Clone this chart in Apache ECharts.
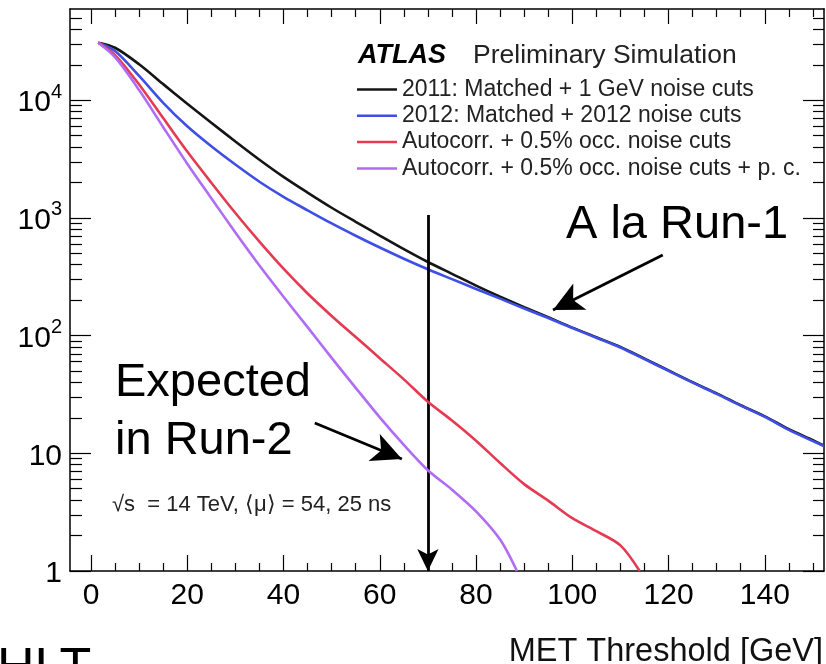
<!DOCTYPE html>
<html>
<head>
<meta charset="utf-8">
<script src="https://cdn.jsdelivr.net/npm/echarts@6/dist/echarts.min.js"></script>
<style>
  html, body { margin: 0; padding: 0; background: #fff; }
  #chart { width: 826px; height: 664px; }
</style>
</head>
<body>
<div id="chart"></div>
<script>
const FONT = '"Liberation Sans", Arial, Helvetica, sans-serif';

// MET threshold [GeV] sample points for each rate curve
const thresholds2011 = [1.5, 5, 10, 15, 20, 25, 30, 35, 40, 45, 50, 55, 60, 65, 70, 75, 80, 85, 90, 95, 100, 105, 110, 115, 120, 125, 130, 135, 140, 145, 150, 152.3];
const rate2011 = [30800, 27900, 20200, 13700, 9350, 6440, 4460, 3120, 2230, 1640, 1220, 927, 708, 543, 422, 335, 266, 214, 174, 143, 117, 96.8, 80.0, 63.7, 50.6, 40.2, 32.3, 25.6, 20.6, 16.0, 12.9, 11.6];

const thresholds2012 = [1.5, 5, 10, 15, 20, 25, 30, 35, 40, 45, 50, 55, 60, 65, 70, 75, 80, 85, 90, 95, 100, 105, 110, 115, 120, 125, 130, 135, 140, 145, 150, 152.3];
const rate2012 = [30800, 26200, 16100, 9510, 6000, 4060, 2840, 2030, 1510, 1160, 897, 705, 560, 450, 366, 302, 249, 206, 170, 141, 116, 95.9, 79.3, 63.1, 50.1, 39.8, 32.0, 25.4, 20.4, 15.8, 12.7, 11.5];

const thresholdsAutocorr = [1.5, 5, 10, 15, 20, 25, 30, 35, 40, 45, 50, 55, 60, 65, 70, 75, 80, 85, 90, 95, 100, 105, 110, 114];
const rateAutocorr = [30800, 24200, 13600, 7050, 3660, 1990, 1100, 628, 370, 228, 147, 97.3, 64.3, 42.5, 27.4, 19.0, 12.8, 8.28, 5.47, 3.96, 2.81, 2.18, 1.65, 1.0];

const thresholdsAutocorrPC = [1.5, 5, 10, 15, 20, 25, 30, 35, 40, 45, 50, 55, 60, 65, 70, 75, 80, 85, 88.5];
const rateAutocorrPC = [30800, 23200, 12200, 5900, 2890, 1470, 752, 394, 214, 118, 64.7, 36.0, 20.2, 11.8, 7.18, 4.91, 3.21, 1.85, 1.0];

const seriesNames = [
  '2011: Matched + 1 GeV noise cuts',
  '2012: Matched + 2012 noise cuts',
  'Autocorr. + 0.5% occ. noise cuts',
  'Autocorr. + 0.5% occ. noise cuts + p. c.'
];
const seriesColors = ['#151515', '#3f4fe6', '#e43a52', '#b06cf4'];

// axis ranges and tick positions
const xMin = -4.36, xMax = 152.3;
const yMin = 1, yMax = 59560;
const xMajorTicks = [0, 20, 40, 60, 80, 100, 120, 140];
const xMinorTicks = [5, 10, 15, 25, 30, 35, 45, 50, 55, 65, 70, 75, 85, 90, 95, 105, 110, 115, 125, 130, 135, 145, 150];
const yMajorTicks = [1, 10, 100, 1000, 10000];
const yMinorTicks = [];
for (let d = 1; d <= 10000; d *= 10) {
  for (let m = 2; m <= 9; m++) {
    if (m * d < yMax) yMinorTicks.push(m * d);
  }
}

// threshold marker and annotation arrows (data coordinates)
const cutThreshold = 70;
const arrowRun1 = [[118.8, 484], [96.0, 165]];
const arrowRun2 = [[46.5, 18.1], [64.6, 8.95]];

function pairs(xs, ys) { return xs.map((x, i) => [x, ys[i]]); }

function yLabel(v) {
  const l = Math.log10(v);
  const e = Math.round(l);
  if (Math.abs(l - e) > 1e-6) return '';
  if (e === 0) return '{b|1}';
  if (e === 1) return '{b|10}';
  return '{b|10}{s|' + e + '}';
}

const tickStyle = { color: '#000', width: 1.2 };

const baseX = {
  type: 'value', min: xMin, max: xMax,
  axisLine: { show: true, onZero: false, lineStyle: { color: '#000', width: 1.5 } },
  splitLine: { show: false }
};
const baseY = {
  type: 'log', logBase: 10, min: yMin, max: yMax,
  axisLine: { show: true, onZero: false, lineStyle: { color: '#000', width: 1.5 } },
  axisTick: { show: false },
  splitLine: { show: false }
};

// Empty unit axes whose zero lies on one frame edge; the tick-only axes
// below are pinned to them with axisLine.onZero.
function anchorAxis(min, max) {
  return {
    type: 'value', min: min, max: max,
    axisLine: { show: false, onZero: false },
    axisTick: { show: false }, axisLabel: { show: false }, splitLine: { show: false }
  };
}
function xTickAxis(position, values, length, anchorIndex) {
  return {
    type: 'value', min: xMin, max: xMax, position: position,
    axisLine: { show: false, onZero: true, onZeroAxisIndex: anchorIndex },
    splitLine: { show: false }, axisLabel: { show: false },
    axisTick: { show: true, inside: true, length: length, lineStyle: tickStyle, customValues: values }
  };
}
function yTickAxis(position, values, length, anchorIndex) {
  return {
    type: 'value', min: Math.log10(yMin), max: Math.log10(yMax), position: position,
    axisLine: { show: false, onZero: true, onZeroAxisIndex: anchorIndex },
    splitLine: { show: false }, axisLabel: { show: false },
    axisTick: { show: true, inside: true, length: length, lineStyle: tickStyle, customValues: values.map(v => Math.log10(v)) }
  };
}

const chart = echarts.init(document.getElementById('chart'), null, { renderer: 'canvas' });

const lineSeries = seriesNames.map((name, i) => {
  const xs = [thresholds2011, thresholds2012, thresholdsAutocorr, thresholdsAutocorrPC][i];
  const ys = [rate2011, rate2012, rateAutocorr, rateAutocorrPC][i];
  return {
    name: name,
    type: 'line',
    xAxisIndex: 0,
    yAxisIndex: 0,
    data: pairs(xs, ys),
    smooth: 0.3,
    symbol: 'none',
    lineStyle: { color: seriesColors[i], width: 2.6 },
    itemStyle: { color: seriesColors[i] },
    z: 3 + i
  };
});

// arrows drawn on top of the curves
lineSeries[0].markLine = {
  silent: true,
  animation: false,
  symbol: ['none', 'arrow'],
  label: { show: false },
  lineStyle: { color: '#000', width: 2.8, type: 'solid' },
  emphasis: { disabled: true },
  data: [
    [{ coord: [cutThreshold, 1060] }, { coord: [cutThreshold, yMin], symbolSize: [16, 22] }],
    [{ coord: arrowRun1[0] }, { coord: arrowRun1[1], symbolSize: [22, 30] }],
    [{ coord: arrowRun2[0] }, { coord: arrowRun2[1], symbolSize: [22, 30] }]
  ]
};

const option = {
  animation: false,
  backgroundColor: '#fff',
  grid: { left: 70, top: 9, width: 754, height: 562, containLabel: false },
  xAxis: [
    Object.assign({}, baseX, {                    // 0: frame bottom
      position: 'bottom',
      axisTick: { show: true, inside: true, length: 16, lineStyle: tickStyle, customValues: xMajorTicks },
      axisLabel: {
        show: true, customValues: xMajorTicks, margin: 10,
        fontSize: 30, fontFamily: FONT, color: '#000'
      }
    }),
    Object.assign({}, baseX, {                    // 1: frame top
      position: 'top',
      axisTick: { show: true, inside: true, length: 15, lineStyle: tickStyle, customValues: xMajorTicks },
      axisLabel: { show: false }
    }),
    anchorAxis(0, 1),                             // 2: zero on left edge
    anchorAxis(-1, 0),                            // 3: zero on right edge
    anchorAxis(0, 1),                             // 4: zero on left edge
    anchorAxis(-1, 0),                            // 5: zero on right edge
    xTickAxis('bottom', xMinorTicks, 8, 2),       // 6
    xTickAxis('top', xMinorTicks, 8, 3)           // 7
  ],
  yAxis: [
    Object.assign({}, baseY, {                    // 0: frame left
      position: 'left',
      axisLabel: {
        show: true, margin: 8, formatter: yLabel,
        rich: {
          b: { fontSize: 30, fontFamily: FONT, color: '#000', lineHeight: 36, verticalAlign: 'bottom' },
          s: { fontSize: 20, fontFamily: FONT, color: '#000', lineHeight: 20, verticalAlign: 'top' }
        }
      }
    }),
    Object.assign({}, baseY, {                    // 1: frame right
      position: 'right',
      axisLabel: { show: false }
    }),
    anchorAxis(0, 1),                             // 2: zero on bottom edge
    anchorAxis(-1, 0),                            // 3: zero on top edge
    yTickAxis('left', yMajorTicks, 21, 2),        // 4
    yTickAxis('right', yMajorTicks, 21, 3),       // 5
    yTickAxis('left', yMinorTicks, 12, 4),        // 6
    yTickAxis('right', yMinorTicks, 11, 5)        // 7
  ],
  legend: {
    data: seriesNames,
    orient: 'vertical',
    left: 352,
    top: 73,
    icon: 'rect',
    itemWidth: 40,
    itemHeight: 2.5,
    itemGap: 3.3,
    selectedMode: false,
    textStyle: { fontSize: 23, fontFamily: FONT, color: '#222' }
  },
  graphic: [
    { type: 'text', x: 358, y: 56, style: { text: 'ATLAS', font: 'italic bold 27px ' + FONT, fill: '#000', verticalAlign: 'middle' } },
    { type: 'text', x: 473, y: 56, style: { text: 'Preliminary Simulation', font: '26.5px ' + FONT, fill: '#222', verticalAlign: 'middle' } },
    { type: 'text', x: 566, y: 225, style: { text: 'A la Run-1', font: '47px ' + FONT, fill: '#000', verticalAlign: 'middle' } },
    { type: 'text', x: 115, y: 383, style: { text: 'Expected', font: '47px ' + FONT, fill: '#000', verticalAlign: 'middle' } },
    { type: 'text', x: 115, y: 441, style: { text: 'in Run-2', font: '47px ' + FONT, fill: '#000', verticalAlign: 'middle' } },
    { type: 'text', x: 112, y: 505, style: { text: '√s  = 14 TeV, ⟨μ⟩ = 54, 25 ns', font: '22px ' + FONT, fill: '#222', verticalAlign: 'middle' } },
    { type: 'text', x: 823, y: 652, style: { text: 'MET Threshold [GeV]', font: '32.5px ' + FONT, fill: '#111', align: 'right', verticalAlign: 'middle' } },
    { type: 'text', x: -3, y: 670, style: { text: 'HLT', font: '52px ' + FONT, fill: '#000', verticalAlign: 'middle' } }
  ],
  series: lineSeries
};

chart.setOption(option);
</script>
</body>
</html>
